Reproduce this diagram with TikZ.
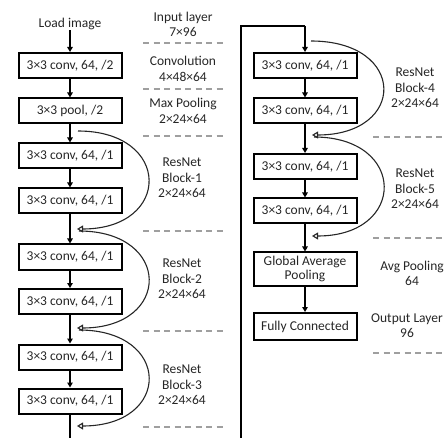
\documentclass[tikz,border=0pt]{standalone}
\usepackage{fontspec}
\setmainfont{Carlito}
\usetikzlibrary{arrows.meta}
\begin{document}
\begin{tikzpicture}[x=1pt,y=-1pt,
  layer/.style={draw=black, line width=2pt, minimum width=103pt, minimum height=25pt, inner sep=0pt, font=\fontsize{13.5}{15}\selectfont, align=center, text=black!85},
  lbl/.style={font=\fontsize{13.5}{15.5}\selectfont, align=center, text=black!85, inner sep=0pt},
  flow/.style={line width=1.4pt, -{Triangle[length=5pt,width=5.5pt]}},
  plain/.style={line width=1.4pt},
  skip/.style={line width=1.1pt, draw=black!85, -{Triangle[open,length=6pt,width=7pt]}},
  divider/.style={draw=gray!75, line width=1.3pt, dash pattern=on 6pt off 4.5pt},
]
\useasboundingbox (0,0) rectangle (444,438);
\clip (0,0) rectangle (444,438);

% left column
\node[lbl] (load) at (70,24) {Load image};
\node[layer] (c1)  at (70,65.5) {3×3 conv, 64, /2};
\node[layer] (p1)  at (70,111)  {3×3 pool, /2};
\node[layer] (b1a) at (70,156)  {3×3 conv, 64, /1};
\node[layer] (b1b) at (70,201)  {3×3 conv, 64, /1};
\node[layer] (b2a) at (70,257)  {3×3 conv, 64, /1};
\node[layer] (b2b) at (70,301.5){3×3 conv, 64, /1};
\node[layer] (b3a) at (70,357)  {3×3 conv, 64, /1};
\node[layer] (b3b) at (70,401)  {3×3 conv, 64, /1};
\coordinate (lend) at (70,440);

\draw[flow] (load) -- (c1);
\draw[flow] (c1) -- (p1);
\draw[flow] (p1) -- (b1a);
\draw[flow] (b1a) -- (b1b);
\draw[flow] (b1b) -- (b2a);
\draw[flow] (b2a) -- (b2b);
\draw[flow] (b2b) -- (b3a);
\draw[flow] (b3a) -- (b3b);
\draw[plain] (b3b) -- (lend);

% left skips
\coordinate (s0) at (78,131);
\coordinate (s1) at (77,229);
\coordinate (s1b) at (79,231);
\coordinate (s2) at (77,328);
\coordinate (s2b) at (79,330);
\coordinate (s3) at (77,426);
\draw[skip] (s0) .. controls (172,131) and (172,229) .. (s1);
\draw[skip] (s1b) .. controls (172,231) and (172,328) .. (s2);
\draw[skip] (s2b) .. controls (172,330) and (172,426) .. (s3);

% left labels
\node[lbl] (t0) at (183,24.5) {Input layer\\7×96};
\node[lbl] (t1) at (183,69) {Convolution\\4×48×64};
\node[lbl] (t2) at (183,111) {Max Pooling\\2×24×64};
\node[lbl] (t3) at (182,178) {ResNet\\Block-1\\2×24×64};
\node[lbl] (t4) at (182,279) {ResNet\\Block-2\\2×24×64};
\node[lbl] (t5) at (182,385) {ResNet\\Block-3\\2×24×64};

\foreach \yy in {43,89,136,231,331,427}
  \draw[divider] (143,\yy) -- (226,\yy);

% connection to right column
\coordinate (rb) at (241,440);
\coordinate (rc1) at (241,26);
\coordinate (rc2) at (305,26);

% right column
\node[layer] (r1) at (305,65.5) {3×3 conv, 64, /1};
\node[layer] (r2) at (305,111)  {3×3 conv, 64, /1};
\node[layer] (r3) at (305,166.5){3×3 conv, 64, /1};
\node[layer] (r4) at (305,211)  {3×3 conv, 64, /1};
\node[layer, minimum height=33pt, font=\fontsize{13.5}{14.5}\selectfont] (gap) at (305,269) {Global Average\\Pooling};
\node[layer, minimum height=27pt] (fc) at (305,326.5) {Fully Connected};

\draw[plain] (rb) -- (rc1) -- (rc2);
\draw[flow] (rc2) -- (r1);
\draw[flow] (r1) -- (r2);
\draw[flow] (r2) -- (r3);
\draw[flow] (r3) -- (r4);
\draw[flow] (r4) -- (gap);
\draw[flow] (gap) -- (fc);

% right skips
\coordinate (q0) at (311,41);
\coordinate (q1) at (312,135);
\coordinate (q1b) at (314,137);
\coordinate (q2) at (312,236);
\draw[skip] (q0) .. controls (407,41) and (407,135) .. (q1);
\draw[skip] (q1b) .. controls (407,137) and (407,236) .. (q2);

% right labels
\node[lbl] (u0) at (415,88) {ResNet\\Block-4\\2×24×64};
\node[lbl] (u1) at (415,189) {ResNet\\Block-5\\2×24×64};
\node[lbl] (u2) at (412,273.5) {Avg Pooling\\64};
\node[lbl] (u3) at (407,325.5) {Output Layer\\96};

\foreach \yy in {137,238,353}
  \draw[divider] (373,\yy) -- (446,\yy);
\end{tikzpicture}
\end{document}
